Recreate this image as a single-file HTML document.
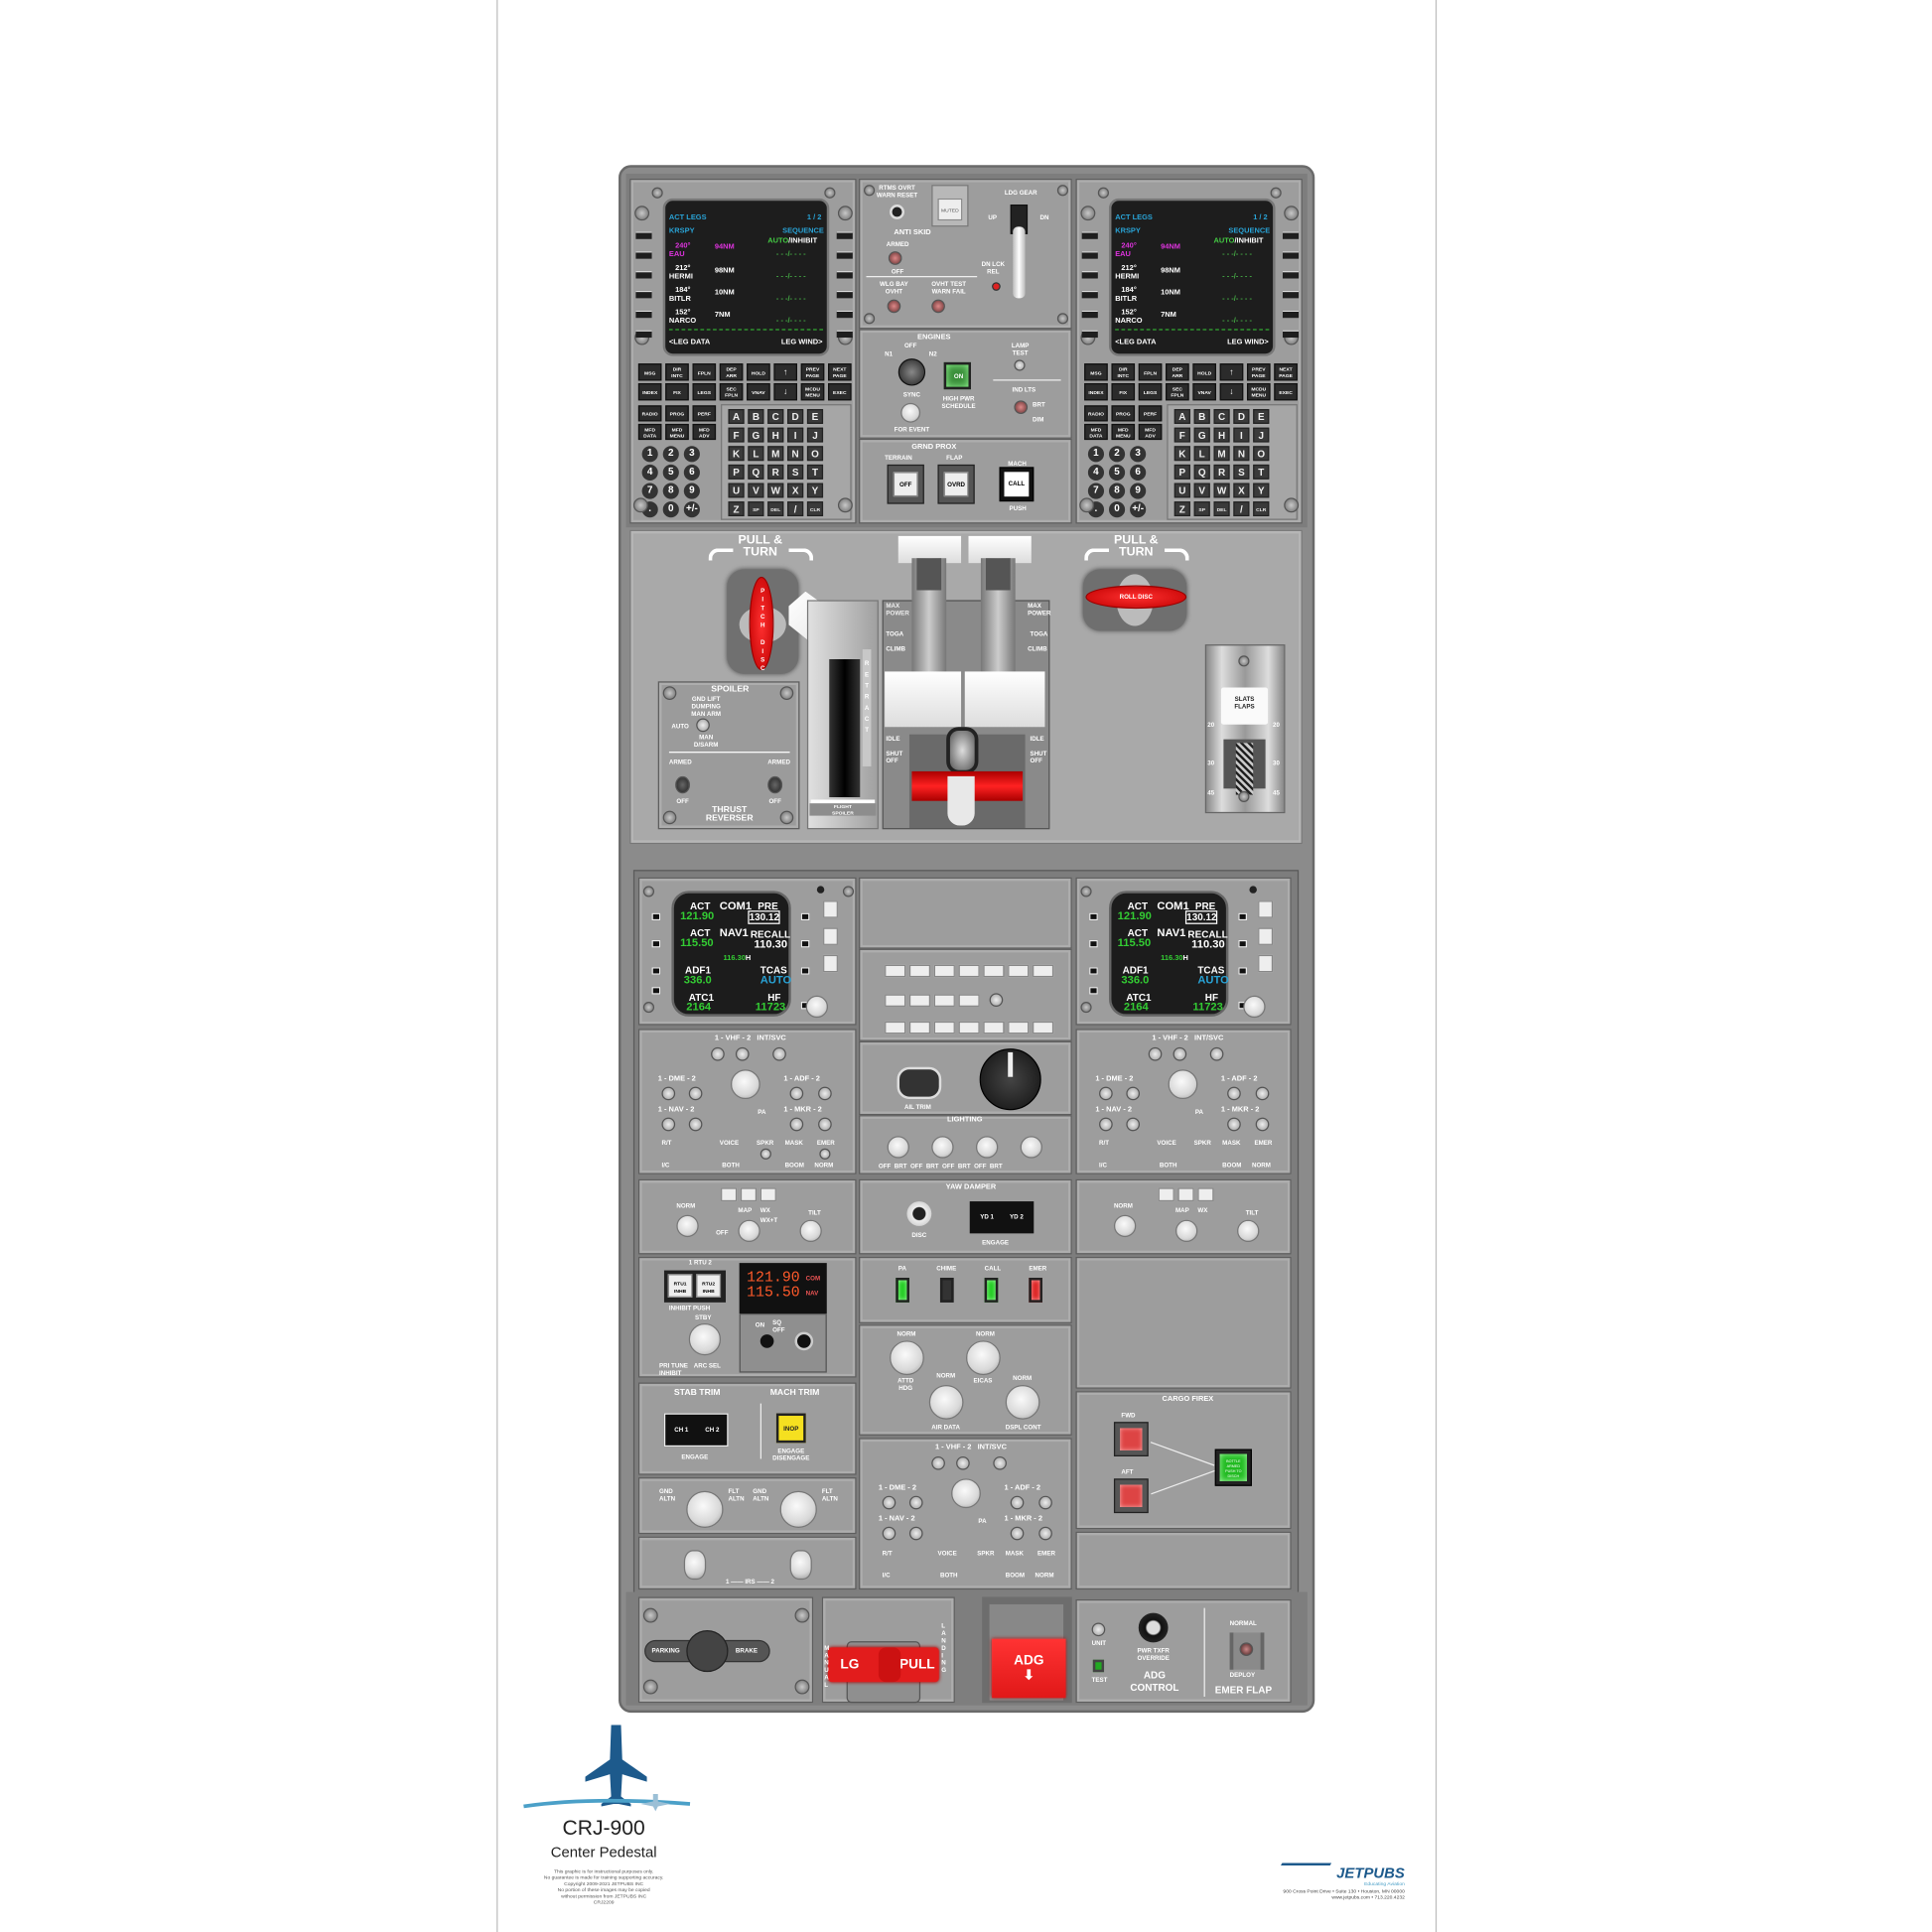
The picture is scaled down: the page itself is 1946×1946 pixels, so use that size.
<!DOCTYPE html>
<html><head><meta charset="utf-8">
<style>
*{margin:0;padding:0;box-sizing:border-box}
html,body{width:1946px;height:1946px;background:#fff;overflow:hidden;font-family:"Liberation Sans",Arial,sans-serif}
#w{position:absolute;left:0;top:0;width:1568px;height:1568px;transform:scale(1.2411);transform-origin:0 0}
div{position:absolute}
.m{background:#9d9d9d;border:1px solid #5e5e5e;box-shadow:inset 0 0 0 2px #adadad}
.k{background:#2b2b2b;color:#fff;font-size:4px;font-weight:bold;text-align:center;line-height:5px;border:1px solid #111;display:flex;align-items:center;justify-content:center}
.lk{background:#3a3a3a;color:#eee;font-size:8px;font-weight:bold;text-align:center;line-height:11px;width:13px;height:12px;border:1px solid #222}
.nk{background:#333;color:#fff;font-size:8px;font-weight:bold;text-align:center;line-height:12px;width:13px;height:13px;border-radius:50%}
.s{width:9px;height:9px;border-radius:50%;background:radial-gradient(#c8c8c8,#6a6a6a);border:1px solid #555}
.lsk{width:13px;height:6px;background:#1e1e1e;border-top:1px solid #ddd}
.t{color:#fff;font-size:5px;font-weight:bold;white-space:nowrap;line-height:6px}
.tc{color:#fff;font-size:5px;font-weight:bold;white-space:nowrap;line-height:6px;text-align:center}
.kn{border-radius:50%;background:radial-gradient(circle at 45% 40%,#fafafa,#d8d8d8 60%,#9a9a9a);border:1px solid #777}
.sk{width:11px;height:11px;border-radius:50%;background:radial-gradient(#eee,#999);border:1px solid #555}
.scr{font-size:8px;font-weight:bold;line-height:9px;white-space:nowrap}
.cs .scr{font-size:6px;line-height:6.5px}
.wb{background:#eee;border:1px solid #888}
</style></head><body><div id="w">

<!-- poster frame -->
<div style="left:403px;top:0;width:763px;height:1568px;border-left:1px solid #bdbdbd;border-right:1px solid #bdbdbd"></div>

<!-- main panel -->
<div style="left:502px;top:134px;width:565px;height:1256px;background:#8b8b8b;border:2px solid #6a6a6a;border-radius:10px"></div>
<div style="left:508px;top:141px;width:553px;height:287px;background:#7d7d7d"></div>

<!-- LEFT CDU -->
<div class="m" style="left:511px;top:145px;width:184px;height:280px">
 <div class="s" style="left:17px;top:6px"></div><div class="s" style="left:157px;top:6px"></div>
 <div class="s" style="left:3px;top:21px;width:12px;height:12px"></div><div class="s" style="left:168px;top:21px;width:12px;height:12px"></div>
 <div class="s" style="left:3px;top:122px;width:12px;height:12px"></div><div class="s" style="left:168px;top:122px;width:12px;height:12px"></div>
 <div class="cs" style="left:26px;top:15px;width:135px;height:128px;background:#1d1d1d;border:2px solid #777;border-radius:8px">
  <div class="scr" style="left:3px;top:11px;color:#29a3d6">ACT LEGS</div><div class="scr" style="left:115px;top:11px;color:#29a3d6">1 / 2</div>
  <div class="scr" style="left:3px;top:22px;color:#29a3d6">KRSPY</div><div class="scr" style="left:95px;top:22px;color:#29a3d6">SEQUENCE</div>
  <div class="scr" style="left:83px;top:30px;color:#4c4">AUTO<span style="color:#fff">/INHIBIT</span></div>
  <div class="scr" style="left:3px;top:34px;color:#d3d">&nbsp;&nbsp;&nbsp;240°<br>EAU</div><div class="scr" style="left:40px;top:35px;color:#d3d">94NM</div>
  <div class="scr" style="left:3px;top:52px;color:#fff">&nbsp;&nbsp;&nbsp;212°<br>HERMI</div><div class="scr" style="left:40px;top:54px;color:#fff">98NM</div>
  <div class="scr" style="left:3px;top:70px;color:#fff">&nbsp;&nbsp;&nbsp;184°<br>BITLR</div><div class="scr" style="left:40px;top:72px;color:#fff">10NM</div>
  <div class="scr" style="left:3px;top:88px;color:#fff">&nbsp;&nbsp;&nbsp;152°<br>NARCO</div><div class="scr" style="left:40px;top:90px;color:#fff">7NM</div>
  <div class="scr" style="left:90px;top:41px;color:#4a4">- - -/- - - -</div>
  <div class="scr" style="left:90px;top:59px;color:#4a4">- - -/- - - -</div>
  <div class="scr" style="left:90px;top:77px;color:#4a4">- - -/- - - -</div>
  <div class="scr" style="left:90px;top:95px;color:#4a4">- - -/- - - -</div>
  <div style="left:3px;top:104px;width:125px;border-top:1px dashed #3a3"></div>
  <div class="scr" style="left:3px;top:112px;color:#fff">&lt;LEG DATA</div><div class="scr" style="left:94px;top:112px;color:#fff">LEG WIND&gt;</div>
 </div>
 <div class="lsk" style="left:4px;top:42px"></div><div class="lsk" style="left:4px;top:58px"></div><div class="lsk" style="left:4px;top:74px"></div><div class="lsk" style="left:4px;top:90px"></div><div class="lsk" style="left:4px;top:106px"></div><div class="lsk" style="left:4px;top:122px"></div>
 <div class="lsk" style="left:167px;top:42px"></div><div class="lsk" style="left:167px;top:58px"></div><div class="lsk" style="left:167px;top:74px"></div><div class="lsk" style="left:167px;top:90px"></div><div class="lsk" style="left:167px;top:106px"></div><div class="lsk" style="left:167px;top:122px"></div>
 <div class="k" style="left:6px;top:149px;width:19px;height:14px">MSG</div><div class="k" style="left:28px;top:149px;width:19px;height:14px">DIR INTC</div><div class="k" style="left:50px;top:149px;width:19px;height:14px">FPLN</div><div class="k" style="left:72px;top:149px;width:19px;height:14px">DEP ARR</div><div class="k" style="left:94px;top:149px;width:19px;height:14px">HOLD</div><div class="k" style="left:116px;top:149px;width:19px;height:14px;font-size:7px">↑</div><div class="k" style="left:138px;top:149px;width:19px;height:14px">PREV PAGE</div><div class="k" style="left:160px;top:149px;width:19px;height:14px">NEXT PAGE</div>
 <div class="k" style="left:6px;top:165px;width:19px;height:14px">INDEX</div><div class="k" style="left:28px;top:165px;width:19px;height:14px">FIX</div><div class="k" style="left:50px;top:165px;width:19px;height:14px">LEGS</div><div class="k" style="left:72px;top:165px;width:19px;height:14px">SEC FPLN</div><div class="k" style="left:94px;top:165px;width:19px;height:14px">VNAV</div><div class="k" style="left:116px;top:165px;width:19px;height:14px;font-size:7px">↓</div><div class="k" style="left:138px;top:165px;width:19px;height:14px">MCDU MENU</div><div class="k" style="left:160px;top:165px;width:19px;height:14px">EXEC</div>
 <div class="k" style="left:6px;top:183px;width:19px;height:13px">RADIO</div><div class="k" style="left:28px;top:183px;width:19px;height:13px">PROG</div><div class="k" style="left:50px;top:183px;width:19px;height:13px">PERF</div>
 <div class="k" style="left:6px;top:198px;width:19px;height:13px">MFD DATA</div><div class="k" style="left:28px;top:198px;width:19px;height:13px">MFD MENU</div><div class="k" style="left:50px;top:198px;width:19px;height:13px">MFD ADV</div>
 <div style="left:73px;top:182px;width:106px;height:94px;background:#a6a6a6;border:1px solid #777"></div>
 <div class="lk" style="left:79px;top:186px">A</div><div class="lk" style="left:95px;top:186px">B</div><div class="lk" style="left:111px;top:186px">C</div><div class="lk" style="left:127px;top:186px">D</div><div class="lk" style="left:143px;top:186px">E</div>
 <div class="lk" style="left:79px;top:201px">F</div><div class="lk" style="left:95px;top:201px">G</div><div class="lk" style="left:111px;top:201px">H</div><div class="lk" style="left:127px;top:201px">I</div><div class="lk" style="left:143px;top:201px">J</div>
 <div class="lk" style="left:79px;top:216px">K</div><div class="lk" style="left:95px;top:216px">L</div><div class="lk" style="left:111px;top:216px">M</div><div class="lk" style="left:127px;top:216px">N</div><div class="lk" style="left:143px;top:216px">O</div>
 <div class="lk" style="left:79px;top:231px">P</div><div class="lk" style="left:95px;top:231px">Q</div><div class="lk" style="left:111px;top:231px">R</div><div class="lk" style="left:127px;top:231px">S</div><div class="lk" style="left:143px;top:231px">T</div>
 <div class="lk" style="left:79px;top:246px">U</div><div class="lk" style="left:95px;top:246px">V</div><div class="lk" style="left:111px;top:246px">W</div><div class="lk" style="left:127px;top:246px">X</div><div class="lk" style="left:143px;top:246px">Y</div>
 <div class="lk" style="left:79px;top:261px">Z</div><div class="lk" style="left:95px;top:261px;font-size:4px">SP</div><div class="lk" style="left:111px;top:261px;font-size:4px">DEL</div><div class="lk" style="left:127px;top:261px">/</div><div class="lk" style="left:143px;top:261px;font-size:4px">CLR</div>
 <div class="nk" style="left:9px;top:216px">1</div><div class="nk" style="left:26px;top:216px">2</div><div class="nk" style="left:43px;top:216px">3</div>
 <div class="nk" style="left:9px;top:231px">4</div><div class="nk" style="left:26px;top:231px">5</div><div class="nk" style="left:43px;top:231px">6</div>
 <div class="nk" style="left:9px;top:246px">7</div><div class="nk" style="left:26px;top:246px">8</div><div class="nk" style="left:43px;top:246px">9</div>
 <div class="nk" style="left:9px;top:261px">.</div><div class="nk" style="left:26px;top:261px">0</div><div class="nk" style="left:43px;top:261px">+/-</div>
 <div class="s" style="left:2px;top:258px;width:12px;height:12px"></div><div class="s" style="left:168px;top:258px;width:12px;height:12px"></div>
</div>

<!-- RIGHT CDU -->
<div class="m" style="left:873px;top:145px;width:184px;height:280px">
 <div class="s" style="left:17px;top:6px"></div><div class="s" style="left:157px;top:6px"></div>
 <div class="s" style="left:3px;top:21px;width:12px;height:12px"></div><div class="s" style="left:168px;top:21px;width:12px;height:12px"></div>
 <div class="s" style="left:3px;top:122px;width:12px;height:12px"></div><div class="s" style="left:168px;top:122px;width:12px;height:12px"></div>
 <div class="cs" style="left:26px;top:15px;width:135px;height:128px;background:#1d1d1d;border:2px solid #777;border-radius:8px">
  <div class="scr" style="left:3px;top:11px;color:#29a3d6">ACT LEGS</div><div class="scr" style="left:115px;top:11px;color:#29a3d6">1 / 2</div>
  <div class="scr" style="left:3px;top:22px;color:#29a3d6">KRSPY</div><div class="scr" style="left:95px;top:22px;color:#29a3d6">SEQUENCE</div>
  <div class="scr" style="left:83px;top:30px;color:#4c4">AUTO<span style="color:#fff">/INHIBIT</span></div>
  <div class="scr" style="left:3px;top:34px;color:#d3d">&nbsp;&nbsp;&nbsp;240°<br>EAU</div><div class="scr" style="left:40px;top:35px;color:#d3d">94NM</div>
  <div class="scr" style="left:3px;top:52px;color:#fff">&nbsp;&nbsp;&nbsp;212°<br>HERMI</div><div class="scr" style="left:40px;top:54px;color:#fff">98NM</div>
  <div class="scr" style="left:3px;top:70px;color:#fff">&nbsp;&nbsp;&nbsp;184°<br>BITLR</div><div class="scr" style="left:40px;top:72px;color:#fff">10NM</div>
  <div class="scr" style="left:3px;top:88px;color:#fff">&nbsp;&nbsp;&nbsp;152°<br>NARCO</div><div class="scr" style="left:40px;top:90px;color:#fff">7NM</div>
  <div class="scr" style="left:90px;top:41px;color:#4a4">- - -/- - - -</div>
  <div class="scr" style="left:90px;top:59px;color:#4a4">- - -/- - - -</div>
  <div class="scr" style="left:90px;top:77px;color:#4a4">- - -/- - - -</div>
  <div class="scr" style="left:90px;top:95px;color:#4a4">- - -/- - - -</div>
  <div style="left:3px;top:104px;width:125px;border-top:1px dashed #3a3"></div>
  <div class="scr" style="left:3px;top:112px;color:#fff">&lt;LEG DATA</div><div class="scr" style="left:94px;top:112px;color:#fff">LEG WIND&gt;</div>
 </div>
 <div class="lsk" style="left:4px;top:42px"></div><div class="lsk" style="left:4px;top:58px"></div><div class="lsk" style="left:4px;top:74px"></div><div class="lsk" style="left:4px;top:90px"></div><div class="lsk" style="left:4px;top:106px"></div><div class="lsk" style="left:4px;top:122px"></div>
 <div class="lsk" style="left:167px;top:42px"></div><div class="lsk" style="left:167px;top:58px"></div><div class="lsk" style="left:167px;top:74px"></div><div class="lsk" style="left:167px;top:90px"></div><div class="lsk" style="left:167px;top:106px"></div><div class="lsk" style="left:167px;top:122px"></div>
 <div class="k" style="left:6px;top:149px;width:19px;height:14px">MSG</div><div class="k" style="left:28px;top:149px;width:19px;height:14px">DIR INTC</div><div class="k" style="left:50px;top:149px;width:19px;height:14px">FPLN</div><div class="k" style="left:72px;top:149px;width:19px;height:14px">DEP ARR</div><div class="k" style="left:94px;top:149px;width:19px;height:14px">HOLD</div><div class="k" style="left:116px;top:149px;width:19px;height:14px;font-size:7px">↑</div><div class="k" style="left:138px;top:149px;width:19px;height:14px">PREV PAGE</div><div class="k" style="left:160px;top:149px;width:19px;height:14px">NEXT PAGE</div>
 <div class="k" style="left:6px;top:165px;width:19px;height:14px">INDEX</div><div class="k" style="left:28px;top:165px;width:19px;height:14px">FIX</div><div class="k" style="left:50px;top:165px;width:19px;height:14px">LEGS</div><div class="k" style="left:72px;top:165px;width:19px;height:14px">SEC FPLN</div><div class="k" style="left:94px;top:165px;width:19px;height:14px">VNAV</div><div class="k" style="left:116px;top:165px;width:19px;height:14px;font-size:7px">↓</div><div class="k" style="left:138px;top:165px;width:19px;height:14px">MCDU MENU</div><div class="k" style="left:160px;top:165px;width:19px;height:14px">EXEC</div>
 <div class="k" style="left:6px;top:183px;width:19px;height:13px">RADIO</div><div class="k" style="left:28px;top:183px;width:19px;height:13px">PROG</div><div class="k" style="left:50px;top:183px;width:19px;height:13px">PERF</div>
 <div class="k" style="left:6px;top:198px;width:19px;height:13px">MFD DATA</div><div class="k" style="left:28px;top:198px;width:19px;height:13px">MFD MENU</div><div class="k" style="left:50px;top:198px;width:19px;height:13px">MFD ADV</div>
 <div style="left:73px;top:182px;width:106px;height:94px;background:#a6a6a6;border:1px solid #777"></div>
 <div class="lk" style="left:79px;top:186px">A</div><div class="lk" style="left:95px;top:186px">B</div><div class="lk" style="left:111px;top:186px">C</div><div class="lk" style="left:127px;top:186px">D</div><div class="lk" style="left:143px;top:186px">E</div>
 <div class="lk" style="left:79px;top:201px">F</div><div class="lk" style="left:95px;top:201px">G</div><div class="lk" style="left:111px;top:201px">H</div><div class="lk" style="left:127px;top:201px">I</div><div class="lk" style="left:143px;top:201px">J</div>
 <div class="lk" style="left:79px;top:216px">K</div><div class="lk" style="left:95px;top:216px">L</div><div class="lk" style="left:111px;top:216px">M</div><div class="lk" style="left:127px;top:216px">N</div><div class="lk" style="left:143px;top:216px">O</div>
 <div class="lk" style="left:79px;top:231px">P</div><div class="lk" style="left:95px;top:231px">Q</div><div class="lk" style="left:111px;top:231px">R</div><div class="lk" style="left:127px;top:231px">S</div><div class="lk" style="left:143px;top:231px">T</div>
 <div class="lk" style="left:79px;top:246px">U</div><div class="lk" style="left:95px;top:246px">V</div><div class="lk" style="left:111px;top:246px">W</div><div class="lk" style="left:127px;top:246px">X</div><div class="lk" style="left:143px;top:246px">Y</div>
 <div class="lk" style="left:79px;top:261px">Z</div><div class="lk" style="left:95px;top:261px;font-size:4px">SP</div><div class="lk" style="left:111px;top:261px;font-size:4px">DEL</div><div class="lk" style="left:127px;top:261px">/</div><div class="lk" style="left:143px;top:261px;font-size:4px">CLR</div>
 <div class="nk" style="left:9px;top:216px">1</div><div class="nk" style="left:26px;top:216px">2</div><div class="nk" style="left:43px;top:216px">3</div>
 <div class="nk" style="left:9px;top:231px">4</div><div class="nk" style="left:26px;top:231px">5</div><div class="nk" style="left:43px;top:231px">6</div>
 <div class="nk" style="left:9px;top:246px">7</div><div class="nk" style="left:26px;top:246px">8</div><div class="nk" style="left:43px;top:246px">9</div>
 <div class="nk" style="left:9px;top:261px">.</div><div class="nk" style="left:26px;top:261px">0</div><div class="nk" style="left:43px;top:261px">+/-</div>
 <div class="s" style="left:2px;top:258px;width:12px;height:12px"></div><div class="s" style="left:168px;top:258px;width:12px;height:12px"></div>
</div>

<!-- CENTER TOP -->
<div class="m" style="left:697px;top:145px;width:173px;height:122px">
 <div class="tc" style="left:12px;top:4px;width:36px">RTMS OVRT<br>WARN RESET</div>
 <div style="left:24px;top:20px;width:12px;height:12px;border-radius:50%;background:#222;border:2px solid #ddd"></div>
 <div style="left:58px;top:4px;width:30px;height:34px;background:#b8b8b8;border:1px solid #777"><div class="wb" style="left:4px;top:10px;width:20px;height:18px;color:#555;font-size:4px;text-align:center;line-height:18px">MUTED</div></div>
 <div class="tc" style="left:108px;top:8px;width:45px">LDG GEAR</div>
 <div class="t" style="left:104px;top:28px">UP</div><div class="t" style="left:146px;top:28px">DN</div>
 <div style="left:122px;top:20px;width:14px;height:24px;background:#222;border:1px solid #111"></div>
 <div style="left:124px;top:38px;width:10px;height:58px;background:linear-gradient(90deg,#bbb,#fff,#bbb);border-radius:4px"></div>
 <div class="tc" style="left:88px;top:66px;width:40px">DN LCK<br>REL</div>
 <div style="left:107px;top:83px;width:7px;height:7px;border-radius:50%;background:#d22;border:1px solid #333"></div>
 <div class="tc" style="left:25px;top:40px;width:35px;font-size:6px">ANTI SKID</div>
 <div class="tc" style="left:18px;top:50px;width:25px">ARMED</div>
 <div class="sk" style="left:23px;top:58px;background:radial-gradient(#d88,#633)"></div>
 <div class="tc" style="left:18px;top:72px;width:25px">OFF</div>
 <div style="left:5px;top:78px;width:90px;border-top:1px solid #eee"></div>
 <div class="tc" style="left:10px;top:82px;width:35px">WLG BAY<br>OVHT</div>
 <div class="tc" style="left:52px;top:82px;width:40px">OVHT TEST<br>WARN FAIL</div>
 <div class="sk" style="left:22px;top:97px;background:radial-gradient(#d88,#633)"></div>
 <div class="sk" style="left:58px;top:97px;background:radial-gradient(#d88,#633)"></div>
 <div class="s" style="left:3px;top:4px"></div><div class="s" style="left:160px;top:4px"></div><div class="s" style="left:3px;top:108px"></div><div class="s" style="left:160px;top:108px"></div>
</div>
<div class="m" style="left:697px;top:267px;width:173px;height:89px">
 <div class="tc" style="left:40px;top:3px;width:40px;font-size:6px">ENGINES</div>
 <div class="t" style="left:20px;top:17px">N1</div><div class="t" style="left:36px;top:10px">OFF</div><div class="t" style="left:56px;top:17px">N2</div>
 <div style="left:31px;top:23px;width:22px;height:22px;border-radius:50%;background:radial-gradient(#888,#222);border:1px solid #111"></div>
 <div class="tc" style="left:28px;top:50px;width:28px">SYNC</div>
 <div class="kn" style="left:33px;top:59px;width:16px;height:16px"></div>
 <div class="tc" style="left:22px;top:78px;width:40px">FOR EVENT</div>
 <div style="left:68px;top:26px;width:22px;height:22px;background:#3b8f3b;border:2px solid #222;box-shadow:inset 0 0 6px #9f9"><div class="tc" style="left:3px;top:7px;width:14px;color:#fff">ON</div></div>
 <div class="tc" style="left:60px;top:53px;width:40px">HIGH PWR<br>SCHEDULE</div>
 <div class="tc" style="left:115px;top:10px;width:30px">LAMP<br>TEST</div>
 <div class="sk" style="left:125px;top:24px;width:9px;height:9px"></div>
 <div style="left:108px;top:40px;width:55px;border-top:1px solid #eee"></div>
 <div class="tc" style="left:118px;top:46px;width:30px">IND LTS</div>
 <div class="sk" style="left:125px;top:57px;background:radial-gradient(#d88,#633)"></div>
 <div class="t" style="left:140px;top:58px">BRT</div><div class="t" style="left:140px;top:70px">DIM</div>
</div>
<div class="m" style="left:697px;top:356px;width:173px;height:69px">
 <div class="tc" style="left:25px;top:3px;width:70px;font-size:6px">GRND PROX</div>
 <div class="t" style="left:20px;top:12px">TERRAIN</div><div class="t" style="left:70px;top:12px">FLAP</div><div class="t" style="left:120px;top:17px">MACH</div>
 <div style="left:22px;top:20px;width:30px;height:32px;background:#555;border:1px solid #222"><div class="wb" style="left:4px;top:5px;width:20px;height:20px;font-size:5px;font-weight:bold;text-align:center;line-height:20px">OFF</div></div>
 <div style="left:63px;top:20px;width:30px;height:32px;background:#555;border:1px solid #222"><div class="wb" style="left:4px;top:5px;width:20px;height:20px;font-size:5px;font-weight:bold;text-align:center;line-height:20px">OVRD</div></div>
 <div style="left:113px;top:22px;width:28px;height:28px;background:#111;border:1px solid #000"><div style="left:3px;top:3px;width:20px;height:20px;background:#fff;font-size:5px;font-weight:bold;text-align:center;line-height:20px">CALL</div></div>
 <div class="t" style="left:121px;top:53px">PUSH</div>
</div>

<!-- THROTTLE SECTION -->
<div style="left:511px;top:430px;width:546px;height:255px;background:#a9a9a9;border:1px solid #777;box-shadow:inset 0 0 0 2px #b6b6b6"></div>
<div class="tc" style="left:587px;top:434px;width:60px;font-size:10px;line-height:10px">PULL &amp;<br>TURN</div>
<div style="left:575px;top:445px;width:20px;height:10px;border-top:3px solid #fff;border-left:3px solid #fff;border-radius:8px 0 0 0"></div>
<div style="left:640px;top:445px;width:20px;height:10px;border-top:3px solid #fff;border-right:3px solid #fff;border-radius:0 8px 0 0"></div>
<div class="tc" style="left:892px;top:434px;width:60px;font-size:10px;line-height:10px">PULL &amp;<br>TURN</div>
<div style="left:880px;top:445px;width:20px;height:10px;border-top:3px solid #fff;border-left:3px solid #fff;border-radius:8px 0 0 0"></div>
<div style="left:945px;top:445px;width:20px;height:10px;border-top:3px solid #fff;border-right:3px solid #fff;border-radius:0 8px 0 0"></div>
<!-- pitch disc -->
<div style="left:590px;top:462px;width:58px;height:85px;background:#707070;border-radius:14px;box-shadow:0 0 4px #555"></div>
<div style="left:600px;top:492px;width:38px;height:30px;border-radius:50%;background:#bbb"></div>
<div style="left:608px;top:468px;width:20px;height:76px;border-radius:50%;background:radial-gradient(#ff3030,#c00000);border:1px solid #900"><div class="tc" style="left:6px;top:8px;width:8px;font-size:5px;line-height:7px">P<br>I<br>T<br>C<br>H<br><br>D<br>I<br>S<br>C</div></div>
<!-- white lever -->
<div style="left:640px;top:480px;width:55px;height:60px;background:linear-gradient(135deg,#fff,#ddd);clip-path:polygon(0 20%,25% 0,100% 50%,100% 100%,75% 100%,0 45%)"></div>
<!-- flight spoiler -->
<div style="left:655px;top:487px;width:58px;height:186px;background:linear-gradient(90deg,#e0e0e0,#a0a0a0);border:1px solid #777"></div>
<div style="left:673px;top:535px;width:25px;height:112px;background:linear-gradient(90deg,#333,#000,#333)"></div>
<div style="left:700px;top:527px;width:7px;height:95px;background:#c8c8c8"><div class="tc" style="left:1px;top:8px;width:5px;line-height:9px">R<br>E<br>T<br>R<br>A<br>C<br>T</div></div>
<div style="left:658px;top:649px;width:52px;height:3px;background:#fff"></div>
<div style="left:657px;top:652px;width:54px;height:10px;background:#8d8d8d"><div class="tc" style="left:0;top:0;width:54px;line-height:5px;font-size:4px">FLIGHT<br>SPOILER</div></div>
<!-- spoiler / thrust reverser panel -->
<div class="m" style="left:534px;top:553px;width:115px;height:120px;background:#9b9b9b">
 <div class="s" style="left:3px;top:3px;width:11px;height:11px"></div><div class="s" style="left:98px;top:3px;width:11px;height:11px"></div><div class="s" style="left:3px;top:104px;width:11px;height:11px"></div><div class="s" style="left:98px;top:104px;width:11px;height:11px"></div>
 <div class="tc" style="left:30px;top:3px;width:55px;font-size:7px">SPOILER</div>
 <div class="tc" style="left:18px;top:11px;width:40px;line-height:6px">GND LIFT<br>DUMPING<br>MAN ARM</div>
 <div class="t" style="left:10px;top:33px">AUTO</div>
 <div class="sk" style="left:30px;top:29px"></div>
 <div class="tc" style="left:18px;top:42px;width:40px">MAN<br>D/SARM</div>
 <div style="left:8px;top:56px;width:98px;border-top:1px solid #fff"></div>
 <div class="t" style="left:8px;top:62px">ARMED</div><div class="t" style="left:88px;top:62px">ARMED</div>
 <div class="sk" style="left:13px;top:76px;width:12px;height:14px;background:radial-gradient(#666,#222)"></div>
 <div class="sk" style="left:88px;top:76px;width:12px;height:14px;background:radial-gradient(#666,#222)"></div>
 <div class="t" style="left:14px;top:94px">OFF</div><div class="t" style="left:89px;top:94px">OFF</div>
 <div class="tc" style="left:32px;top:100px;width:50px;font-size:7px;line-height:7px">THRUST<br>REVERSER</div>
</div>
<!-- thrust levers -->
<div style="left:716px;top:487px;width:136px;height:186px;background:#8a8a8a;border:1px solid #555"></div>
<div style="left:729px;top:435px;width:51px;height:22px;background:linear-gradient(#fff,#ddd)"></div>
<div style="left:786px;top:435px;width:51px;height:22px;background:linear-gradient(#fff,#ddd)"></div>
<div style="left:740px;top:453px;width:28px;height:100px;background:linear-gradient(90deg,#777,#ccc,#777)"></div>
<div style="left:796px;top:453px;width:28px;height:100px;background:linear-gradient(90deg,#777,#ccc,#777)"></div>
<div style="left:744px;top:453px;width:20px;height:26px;background:#555"></div>
<div style="left:800px;top:453px;width:20px;height:26px;background:#555"></div>
<div style="left:718px;top:545px;width:62px;height:45px;background:linear-gradient(#fff,#ddd)"></div>
<div style="left:783px;top:545px;width:65px;height:45px;background:linear-gradient(#fff,#ddd)"></div>
<div style="left:738px;top:596px;width:94px;height:76px;background:#6a6a6a"></div>
<div style="left:768px;top:590px;width:26px;height:38px;background:radial-gradient(#ddd,#555);border-radius:10px;border:3px solid #222"></div>
<div style="left:740px;top:626px;width:90px;height:24px;background:linear-gradient(#a00,#f22,#a00)"></div>
<div style="left:769px;top:630px;width:22px;height:40px;background:#e8e8e8;border-radius:0 0 10px 10px"></div>
<div class="t" style="left:719px;top:489px;color:#eee">MAX<br>POWER</div><div class="t" style="left:834px;top:489px">MAX<br>POWER</div>
<div class="t" style="left:719px;top:512px">TOGA</div><div class="t" style="left:836px;top:512px">TOGA</div>
<div class="t" style="left:719px;top:524px">CLIMB</div><div class="t" style="left:834px;top:524px">CLIMB</div>
<div class="t" style="left:719px;top:597px">IDLE</div><div class="t" style="left:836px;top:597px">IDLE</div>
<div class="t" style="left:719px;top:609px">SHUT<br>OFF</div><div class="t" style="left:836px;top:609px">SHUT<br>OFF</div>
<!-- roll disc -->
<div style="left:879px;top:462px;width:84px;height:50px;background:#6f6f6f;border-radius:14px;box-shadow:0 0 4px #555"></div>
<div style="left:906px;top:466px;width:30px;height:42px;border-radius:50%;background:#bbb"></div>
<div style="left:881px;top:475px;width:82px;height:19px;border-radius:50%;background:radial-gradient(#ff3030,#c00000);border:1px solid #900"><div class="tc" style="left:0;top:6px;width:80px">ROLL DISC</div></div>
<!-- slats flaps -->
<div style="left:978px;top:523px;width:65px;height:137px;background:linear-gradient(90deg,#888,#ddd 20%,#999 50%,#ddd 80%,#888);border:1px solid #666"></div>
<div style="left:993px;top:600px;width:34px;height:40px;background:#555"></div>
<div style="left:1003px;top:603px;width:14px;height:42px;background:repeating-linear-gradient(45deg,#222 0 2px,#ccc 2px 4px)"></div>
<div style="left:991px;top:558px;width:38px;height:30px;background:#fafafa;border-radius:2px"><div class="tc" style="left:0;top:7px;width:38px;color:#222;line-height:6px">SLATS<br>FLAPS</div></div>
<div class="s" style="left:1005px;top:532px"></div><div class="s" style="left:1005px;top:642px"></div>
<div class="t" style="left:980px;top:586px">20</div><div class="t" style="left:1033px;top:586px">20</div>
<div class="t" style="left:980px;top:617px">30</div><div class="t" style="left:1033px;top:617px">30</div>
<div class="t" style="left:980px;top:641px">45</div><div class="t" style="left:1033px;top:641px">45</div>

<!-- LOWER SECTION FRAME -->
<div style="left:514px;top:706px;width:540px;height:587px;background:#7d7d7d;border:1px solid #5a5a5a"></div>

<!-- RMU left -->
<div class="m" style="left:518px;top:712px;width:177px;height:120px">
 <div style="left:26px;top:10px;width:97px;height:102px;background:#1c1c1c;border-radius:14px;border:2px solid #666">
  <div class="scr" style="left:13px;top:6px;color:#fff">ACT</div><div class="scr" style="left:37px;top:6px;color:#fff;font-size:9px">COM1</div><div class="scr" style="left:68px;top:6px;color:#fff">PRE</div>
  <div class="scr" style="left:5px;top:14px;color:#3c3;font-size:9px">121.90</div><div class="scr" style="left:60px;top:14px;color:#fff;border:1px solid #fff;font-size:8px">130.12</div>
  <div class="scr" style="left:13px;top:28px;color:#fff">ACT</div><div class="scr" style="left:37px;top:28px;color:#fff;font-size:9px">NAV1</div><div class="scr" style="left:62px;top:29px;color:#fff">RECALL</div>
  <div class="scr" style="left:5px;top:36px;color:#3c3;font-size:9px">115.50</div><div class="scr" style="left:65px;top:37px;color:#fff;font-size:9px">110.30</div>
  <div class="scr" style="left:40px;top:49px;color:#3c3;font-size:6px">116.30<span style="color:#fff">H</span></div>
  <div class="scr" style="left:9px;top:58px;color:#fff">ADF1</div><div class="scr" style="left:70px;top:58px;color:#fff">TCAS</div>
  <div class="scr" style="left:8px;top:66px;color:#3c3;font-size:9px">336.0</div><div class="scr" style="left:70px;top:66px;color:#29a3d6;font-size:9px">AUTO</div>
  <div class="scr" style="left:12px;top:80px;color:#fff">ATC1</div><div class="scr" style="left:76px;top:80px;color:#fff">HF</div>
  <div class="scr" style="left:10px;top:88px;color:#3c3;font-size:9px">2164</div><div class="scr" style="left:66px;top:88px;color:#3c3;font-size:9px">11723</div>
 </div>
 <div style="left:10px;top:28px;width:7px;height:6px;background:#111;border:1px solid #eee"></div><div style="left:10px;top:50px;width:7px;height:6px;background:#111;border:1px solid #eee"></div><div style="left:10px;top:72px;width:7px;height:6px;background:#111;border:1px solid #eee"></div><div style="left:10px;top:88px;width:7px;height:6px;background:#111;border:1px solid #eee"></div>
 <div style="left:131px;top:28px;width:7px;height:6px;background:#111;border:1px solid #eee"></div><div style="left:131px;top:50px;width:7px;height:6px;background:#111;border:1px solid #eee"></div><div style="left:131px;top:72px;width:7px;height:6px;background:#111;border:1px solid #eee"></div><div style="left:131px;top:100px;width:7px;height:6px;background:#111;border:1px solid #eee"></div>
 <div style="left:144px;top:6px;width:6px;height:6px;border-radius:50%;background:#222"></div>
 <div class="wb" style="left:149px;top:18px;width:12px;height:14px"></div><div class="wb" style="left:149px;top:40px;width:12px;height:14px"></div><div class="wb" style="left:149px;top:62px;width:12px;height:14px"></div>
 <div class="kn" style="left:135px;top:95px;width:18px;height:18px"></div>
 <div class="s" style="left:3px;top:6px"></div><div class="s" style="left:3px;top:100px"></div><div class="s" style="left:165px;top:6px"></div>
</div>

<!-- RMU right -->
<div class="m" style="left:873px;top:712px;width:175px;height:120px">
 <div style="left:26px;top:10px;width:97px;height:102px;background:#1c1c1c;border-radius:14px;border:2px solid #666">
  <div class="scr" style="left:13px;top:6px;color:#fff">ACT</div><div class="scr" style="left:37px;top:6px;color:#fff;font-size:9px">COM1</div><div class="scr" style="left:68px;top:6px;color:#fff">PRE</div>
  <div class="scr" style="left:5px;top:14px;color:#3c3;font-size:9px">121.90</div><div class="scr" style="left:60px;top:14px;color:#fff;border:1px solid #fff;font-size:8px">130.12</div>
  <div class="scr" style="left:13px;top:28px;color:#fff">ACT</div><div class="scr" style="left:37px;top:28px;color:#fff;font-size:9px">NAV1</div><div class="scr" style="left:62px;top:29px;color:#fff">RECALL</div>
  <div class="scr" style="left:5px;top:36px;color:#3c3;font-size:9px">115.50</div><div class="scr" style="left:65px;top:37px;color:#fff;font-size:9px">110.30</div>
  <div class="scr" style="left:40px;top:49px;color:#3c3;font-size:6px">116.30<span style="color:#fff">H</span></div>
  <div class="scr" style="left:9px;top:58px;color:#fff">ADF1</div><div class="scr" style="left:70px;top:58px;color:#fff">TCAS</div>
  <div class="scr" style="left:8px;top:66px;color:#3c3;font-size:9px">336.0</div><div class="scr" style="left:70px;top:66px;color:#29a3d6;font-size:9px">AUTO</div>
  <div class="scr" style="left:12px;top:80px;color:#fff">ATC1</div><div class="scr" style="left:76px;top:80px;color:#fff">HF</div>
  <div class="scr" style="left:10px;top:88px;color:#3c3;font-size:9px">2164</div><div class="scr" style="left:66px;top:88px;color:#3c3;font-size:9px">11723</div>
 </div>
 <div style="left:10px;top:28px;width:7px;height:6px;background:#111;border:1px solid #eee"></div><div style="left:10px;top:50px;width:7px;height:6px;background:#111;border:1px solid #eee"></div><div style="left:10px;top:72px;width:7px;height:6px;background:#111;border:1px solid #eee"></div><div style="left:10px;top:88px;width:7px;height:6px;background:#111;border:1px solid #eee"></div>
 <div style="left:131px;top:28px;width:7px;height:6px;background:#111;border:1px solid #eee"></div><div style="left:131px;top:50px;width:7px;height:6px;background:#111;border:1px solid #eee"></div><div style="left:131px;top:72px;width:7px;height:6px;background:#111;border:1px solid #eee"></div><div style="left:131px;top:100px;width:7px;height:6px;background:#111;border:1px solid #eee"></div>
 <div style="left:140px;top:6px;width:6px;height:6px;border-radius:50%;background:#222"></div>
 <div class="wb" style="left:147px;top:18px;width:12px;height:14px"></div><div class="wb" style="left:147px;top:40px;width:12px;height:14px"></div><div class="wb" style="left:147px;top:62px;width:12px;height:14px"></div>
 <div class="kn" style="left:135px;top:95px;width:18px;height:18px"></div>
 <div class="s" style="left:3px;top:6px"></div><div class="s" style="left:3px;top:100px"></div>
</div>

<!-- AUDIO panels (left, right, center) -->
<div class="m" style="left:518px;top:835px;width:177px;height:118px">
 <div class="tc" style="left:55px;top:4px;width:70px;font-size:6px">1 - VHF - 2 &nbsp; INT/SVC</div>
 <div class="sk" style="left:58px;top:14px"></div><div class="sk" style="left:78px;top:14px"></div><div class="sk" style="left:108px;top:14px"></div>
 <div class="kn" style="left:74px;top:32px;width:24px;height:24px"></div>
 <div class="t" style="left:15px;top:37px;font-size:6px">1 - DME - 2</div><div class="t" style="left:117px;top:37px;font-size:6px">1 - ADF - 2</div>
 <div class="sk" style="left:18px;top:46px"></div><div class="sk" style="left:40px;top:46px"></div><div class="sk" style="left:122px;top:46px"></div><div class="sk" style="left:145px;top:46px"></div>
 <div class="t" style="left:15px;top:62px;font-size:6px">1 - NAV - 2</div><div class="t" style="left:117px;top:62px;font-size:6px">1 - MKR - 2</div><div class="t" style="left:96px;top:64px">PA</div>
 <div class="sk" style="left:18px;top:71px"></div><div class="sk" style="left:40px;top:71px"></div><div class="sk" style="left:122px;top:71px"></div><div class="sk" style="left:145px;top:71px"></div>
 <div class="t" style="left:18px;top:89px">R/T</div><div class="t" style="left:65px;top:89px">VOICE</div><div class="t" style="left:95px;top:89px">SPKR</div><div class="t" style="left:118px;top:89px">MASK</div><div class="t" style="left:144px;top:89px">EMER</div>
 <div class="t" style="left:18px;top:107px">I/C</div><div class="t" style="left:67px;top:107px">BOTH</div><div class="t" style="left:118px;top:107px">BOOM</div><div class="t" style="left:142px;top:107px">NORM</div>
 <div class="sk" style="left:98px;top:96px;width:9px;height:9px"></div><div class="sk" style="left:146px;top:96px;width:9px;height:9px"></div>
</div>
<div class="m" style="left:873px;top:835px;width:175px;height:118px">
 <div class="tc" style="left:55px;top:4px;width:70px;font-size:6px">1 - VHF - 2 &nbsp; INT/SVC</div>
 <div class="sk" style="left:58px;top:14px"></div><div class="sk" style="left:78px;top:14px"></div><div class="sk" style="left:108px;top:14px"></div>
 <div class="kn" style="left:74px;top:32px;width:24px;height:24px"></div>
 <div class="t" style="left:15px;top:37px;font-size:6px">1 - DME - 2</div><div class="t" style="left:117px;top:37px;font-size:6px">1 - ADF - 2</div>
 <div class="sk" style="left:18px;top:46px"></div><div class="sk" style="left:40px;top:46px"></div><div class="sk" style="left:122px;top:46px"></div><div class="sk" style="left:145px;top:46px"></div>
 <div class="t" style="left:15px;top:62px;font-size:6px">1 - NAV - 2</div><div class="t" style="left:117px;top:62px;font-size:6px">1 - MKR - 2</div><div class="t" style="left:96px;top:64px">PA</div>
 <div class="sk" style="left:18px;top:71px"></div><div class="sk" style="left:40px;top:71px"></div><div class="sk" style="left:122px;top:71px"></div><div class="sk" style="left:145px;top:71px"></div>
 <div class="t" style="left:18px;top:89px">R/T</div><div class="t" style="left:65px;top:89px">VOICE</div><div class="t" style="left:95px;top:89px">SPKR</div><div class="t" style="left:118px;top:89px">MASK</div><div class="t" style="left:144px;top:89px">EMER</div>
 <div class="t" style="left:18px;top:107px">I/C</div><div class="t" style="left:67px;top:107px">BOTH</div><div class="t" style="left:118px;top:107px">BOOM</div><div class="t" style="left:142px;top:107px">NORM</div>
</div>
<div class="m" style="left:697px;top:1167px;width:173px;height:123px">
 <div class="tc" style="left:55px;top:4px;width:70px;font-size:6px">1 - VHF - 2 &nbsp; INT/SVC</div>
 <div class="sk" style="left:58px;top:14px"></div><div class="sk" style="left:78px;top:14px"></div><div class="sk" style="left:108px;top:14px"></div>
 <div class="kn" style="left:74px;top:32px;width:24px;height:24px"></div>
 <div class="t" style="left:15px;top:37px;font-size:6px">1 - DME - 2</div><div class="t" style="left:117px;top:37px;font-size:6px">1 - ADF - 2</div>
 <div class="sk" style="left:18px;top:46px"></div><div class="sk" style="left:40px;top:46px"></div><div class="sk" style="left:122px;top:46px"></div><div class="sk" style="left:145px;top:46px"></div>
 <div class="t" style="left:15px;top:62px;font-size:6px">1 - NAV - 2</div><div class="t" style="left:117px;top:62px;font-size:6px">1 - MKR - 2</div><div class="t" style="left:96px;top:64px">PA</div>
 <div class="sk" style="left:18px;top:71px"></div><div class="sk" style="left:40px;top:71px"></div><div class="sk" style="left:122px;top:71px"></div><div class="sk" style="left:145px;top:71px"></div>
 <div class="t" style="left:18px;top:90px">R/T</div><div class="t" style="left:63px;top:90px">VOICE</div><div class="t" style="left:95px;top:90px">SPKR</div><div class="t" style="left:118px;top:90px">MASK</div><div class="t" style="left:144px;top:90px">EMER</div>
 <div class="t" style="left:18px;top:108px">I/C</div><div class="t" style="left:65px;top:108px">BOTH</div><div class="t" style="left:118px;top:108px">BOOM</div><div class="t" style="left:142px;top:108px">NORM</div>
</div>

<!-- radar panels -->
<div class="m" style="left:518px;top:957px;width:177px;height:61px">
 <div class="t" style="left:30px;top:18px">NORM</div>
 <div class="kn" style="left:30px;top:28px;width:18px;height:18px"></div>
 <div class="wb" style="left:66px;top:6px;width:13px;height:11px"></div><div class="wb" style="left:82px;top:6px;width:13px;height:11px"></div><div class="wb" style="left:98px;top:6px;width:13px;height:11px"></div>
 <div class="t" style="left:80px;top:22px">MAP</div><div class="t" style="left:98px;top:22px">WX</div>
 <div class="kn" style="left:80px;top:32px;width:18px;height:18px"></div>
 <div class="t" style="left:62px;top:40px">OFF</div><div class="t" style="left:98px;top:30px">WX+T</div>
 <div class="t" style="left:137px;top:24px">TILT</div>
 <div class="kn" style="left:130px;top:32px;width:18px;height:18px"></div>
</div>
<div class="m" style="left:873px;top:957px;width:175px;height:61px">
 <div class="t" style="left:30px;top:18px">NORM</div>
 <div class="kn" style="left:30px;top:28px;width:18px;height:18px"></div>
 <div class="wb" style="left:66px;top:6px;width:13px;height:11px"></div><div class="wb" style="left:82px;top:6px;width:13px;height:11px"></div><div class="wb" style="left:98px;top:6px;width:13px;height:11px"></div>
 <div class="t" style="left:80px;top:22px">MAP</div><div class="t" style="left:98px;top:22px">WX</div>
 <div class="kn" style="left:80px;top:32px;width:18px;height:18px"></div>
 <div class="t" style="left:137px;top:24px">TILT</div>
 <div class="kn" style="left:130px;top:32px;width:18px;height:18px"></div>
</div>

<!-- center column -->
<div class="m" style="left:697px;top:712px;width:173px;height:58px"></div>
<div class="m" style="left:697px;top:770px;width:173px;height:75px">
 <div class="wb" style="left:20px;top:12px;width:17px;height:10px"></div><div class="wb" style="left:40px;top:12px;width:17px;height:10px"></div><div class="wb" style="left:60px;top:12px;width:17px;height:10px"></div><div class="wb" style="left:80px;top:12px;width:17px;height:10px"></div><div class="wb" style="left:100px;top:12px;width:17px;height:10px"></div><div class="wb" style="left:120px;top:12px;width:17px;height:10px"></div><div class="wb" style="left:140px;top:12px;width:17px;height:10px"></div>
 <div class="wb" style="left:20px;top:36px;width:17px;height:10px"></div><div class="wb" style="left:40px;top:36px;width:17px;height:10px"></div><div class="wb" style="left:60px;top:36px;width:17px;height:10px"></div><div class="wb" style="left:80px;top:36px;width:17px;height:10px"></div>
 <div class="sk" style="left:105px;top:35px"></div>
 <div class="wb" style="left:20px;top:58px;width:17px;height:10px"></div><div class="wb" style="left:40px;top:58px;width:17px;height:10px"></div><div class="wb" style="left:60px;top:58px;width:17px;height:10px"></div><div class="wb" style="left:80px;top:58px;width:17px;height:10px"></div><div class="wb" style="left:100px;top:58px;width:17px;height:10px"></div><div class="wb" style="left:120px;top:58px;width:17px;height:10px"></div><div class="wb" style="left:140px;top:58px;width:17px;height:10px"></div>
</div>
<div class="m" style="left:697px;top:845px;width:173px;height:60px">
 <div style="left:30px;top:20px;width:36px;height:26px;background:#333;border-radius:10px;border:2px solid #ddd"></div>
 <div class="t" style="left:36px;top:50px">AIL TRIM</div>
 <div style="left:97px;top:5px;width:50px;height:50px;border-radius:50%;background:radial-gradient(#444,#111);border:1px solid #000"></div>
 <div style="left:120px;top:8px;width:4px;height:20px;background:#eee"></div>
</div>
<div class="m" style="left:697px;top:905px;width:173px;height:48px">
 <div class="tc" style="left:55px;top:0px;width:60px;font-size:6px">LIGHTING</div>
 <div class="kn" style="left:22px;top:16px;width:18px;height:18px"></div><div class="kn" style="left:58px;top:16px;width:18px;height:18px"></div><div class="kn" style="left:94px;top:16px;width:18px;height:18px"></div><div class="kn" style="left:130px;top:16px;width:18px;height:18px"></div>
 <div class="t" style="left:15px;top:38px">OFF &nbsp;BRT &nbsp;OFF &nbsp;BRT &nbsp;OFF &nbsp;BRT &nbsp;OFF &nbsp;BRT</div>
</div>
<div class="m" style="left:697px;top:957px;width:173px;height:61px">
 <div class="tc" style="left:55px;top:3px;width:70px;font-size:6px">YAW DAMPER</div>
 <div style="left:38px;top:17px;width:20px;height:20px;border-radius:50%;background:radial-gradient(#222 35%,#eee 40%,#bbb)"></div>
 <div class="t" style="left:42px;top:42px">DISC</div>
 <div style="left:89px;top:17px;width:52px;height:26px;background:#111"><div class="tc" style="left:4px;top:10px;width:20px">YD 1</div><div class="tc" style="left:28px;top:10px;width:20px">YD 2</div></div>
 <div class="t" style="left:99px;top:48px">ENGAGE</div>
</div>
<div class="m" style="left:697px;top:1020px;width:173px;height:54px">
 <div class="t" style="left:31px;top:6px">PA</div><div class="t" style="left:62px;top:6px">CHIME</div><div class="t" style="left:101px;top:6px">CALL</div><div class="t" style="left:137px;top:6px">EMER</div>
 <div style="left:29px;top:16px;width:11px;height:20px;background:#2c2;border:2px solid #222;box-shadow:inset 0 0 4px #afa"></div>
 <div style="left:65px;top:16px;width:11px;height:20px;background:#333;border:2px solid #222"></div>
 <div style="left:101px;top:16px;width:11px;height:20px;background:#2c2;border:2px solid #222;box-shadow:inset 0 0 4px #afa"></div>
 <div style="left:137px;top:16px;width:11px;height:20px;background:#d22;border:2px solid #222;box-shadow:inset 0 0 4px #faa"></div>
</div>
<div class="m" style="left:697px;top:1075px;width:173px;height:90px">
 <div class="t" style="left:30px;top:4px">NORM</div><div class="t" style="left:94px;top:4px">NORM</div>
 <div class="kn" style="left:24px;top:12px;width:28px;height:28px"></div><div class="kn" style="left:86px;top:12px;width:28px;height:28px"></div>
 <div class="tc" style="left:22px;top:42px;width:30px">ATTD<br>HDG</div><div class="t" style="left:92px;top:42px">EICAS</div>
 <div class="t" style="left:62px;top:38px">NORM</div><div class="t" style="left:124px;top:40px">NORM</div>
 <div class="kn" style="left:56px;top:48px;width:28px;height:28px"></div><div class="kn" style="left:118px;top:48px;width:28px;height:28px"></div>
 <div class="t" style="left:58px;top:80px">AIR DATA</div><div class="t" style="left:118px;top:80px">DSPL CONT</div>
</div>

<!-- transponder/RTU -->
<div class="m" style="left:518px;top:1020px;width:177px;height:98px">
 <div class="t" style="left:40px;top:1px">1 RTU 2</div>
 <div style="left:20px;top:10px;width:50px;height:26px;background:#222"><div class="wb" style="left:3px;top:3px;width:20px;height:19px;font-size:4px;text-align:center;line-height:6px;padding-top:4px;font-weight:bold">RTU1<br>INHB</div><div class="wb" style="left:26px;top:3px;width:20px;height:19px;font-size:4px;text-align:center;line-height:6px;padding-top:4px;font-weight:bold">RTU2<br>INHB</div></div>
 <div class="t" style="left:24px;top:38px">INHIBIT PUSH</div>
 <div class="t" style="left:45px;top:46px">STBY</div>
 <div class="kn" style="left:40px;top:53px;width:26px;height:26px"></div>
 <div class="t" style="left:16px;top:85px">PRI TUNE<br>INHIBIT</div><div class="t" style="left:44px;top:85px">ARC SEL</div>
 <div style="left:81px;top:4px;width:71px;height:41px;background:#111">
  <div style="left:6px;top:6px;color:#ff5a2a;font-size:12px;font-family:'Liberation Mono',monospace;line-height:12px;white-space:nowrap">121.90<br>115.50</div>
  <div class="t" style="left:54px;top:10px;color:#e55">COM</div><div class="t" style="left:54px;top:22px;color:#e55">NAV</div>
 </div>
 <div style="left:81px;top:45px;width:71px;height:48px;background:#8f8f8f;border:1px solid #555">
  <div class="t" style="left:12px;top:6px">ON</div><div class="t" style="left:26px;top:4px">SQ<br>OFF</div>
  <div style="left:16px;top:16px;width:11px;height:11px;border-radius:50%;background:#111"></div>
  <div style="left:44px;top:14px;width:15px;height:15px;border-radius:50%;background:#111;border:2px solid #ccc"></div>
 </div>
</div>
<div class="m" style="left:873px;top:1020px;width:175px;height:107px"></div>

<!-- stab trim -->
<div class="m" style="left:518px;top:1122px;width:177px;height:75px">
 <div class="t" style="left:28px;top:5px;font-size:7px">STAB TRIM</div><div class="t" style="left:106px;top:5px;font-size:7px">MACH TRIM</div>
 <div style="left:20px;top:24px;width:52px;height:27px;background:#111;border:1px solid #eee"><div class="tc" style="left:2px;top:10px;width:22px">CH 1</div><div class="tc" style="left:27px;top:10px;width:22px">CH 2</div></div>
 <div class="t" style="left:34px;top:57px">ENGAGE</div>
 <div style="left:98px;top:16px;width:1px;height:45px;background:#eee"></div>
 <div style="left:111px;top:24px;width:24px;height:24px;background:#f5e020;border:2px solid #222"><div class="tc" style="left:0;top:8px;width:20px;color:#222">INOP</div></div>
 <div class="tc" style="left:100px;top:52px;width:46px">ENGAGE<br>DISENGAGE</div>
</div>
<div class="m" style="left:518px;top:1199px;width:177px;height:46px">
 <div class="kn" style="left:38px;top:10px;width:30px;height:30px"></div><div class="kn" style="left:114px;top:10px;width:30px;height:30px"></div>
 <div class="t" style="left:16px;top:8px">GND<br>ALTN</div><div class="t" style="left:72px;top:8px">FLT<br>ALTN</div><div class="t" style="left:92px;top:8px">GND<br>ALTN</div><div class="t" style="left:148px;top:8px">FLT<br>ALTN</div>
</div>
<div class="m" style="left:518px;top:1247px;width:177px;height:43px">
 <div class="kn" style="left:36px;top:10px;width:18px;height:24px;border-radius:40%"></div><div class="kn" style="left:122px;top:10px;width:18px;height:24px;border-radius:40%"></div>
 <div class="t" style="left:70px;top:33px">1 —— IRS —— 2</div>
</div>

<!-- cargo firex -->
<div class="m" style="left:873px;top:1129px;width:175px;height:112px">
 <div class="tc" style="left:50px;top:3px;width:80px;font-size:6px">CARGO FIREX</div>
 <div class="t" style="left:36px;top:16px">FWD</div><div class="t" style="left:36px;top:62px">AFT</div>
 <div style="left:30px;top:24px;width:28px;height:28px;background:#555;border:1px solid #222"><div style="left:4px;top:4px;width:18px;height:18px;background:#d44;box-shadow:inset 0 0 4px #faa"></div></div>
 <div style="left:30px;top:70px;width:28px;height:28px;background:#555;border:1px solid #222"><div style="left:4px;top:4px;width:18px;height:18px;background:#d44;box-shadow:inset 0 0 4px #faa"></div></div>
 <div style="left:60px;top:40px;width:55px;border-top:1px solid #eee;transform:rotate(20deg);transform-origin:0 0"></div>
 <div style="left:60px;top:82px;width:55px;border-top:1px solid #eee;transform:rotate(-20deg);transform-origin:0 0"></div>
 <div style="left:112px;top:46px;width:30px;height:30px;background:#222;border:1px solid #000"><div style="left:3px;top:3px;width:22px;height:22px;background:#2b2;box-shadow:inset 0 0 5px #afa;font-size:3px;color:#fff;text-align:center;line-height:4px;padding-top:4px">BOTTLE<br>ARMED<br>PUSH TO<br>DISCH</div></div>
</div>
<div class="m" style="left:873px;top:1243px;width:175px;height:47px"></div>

<!-- bottom row -->
<div style="left:508px;top:1292px;width:553px;height:92px;background:#7e7e7e"></div>
<div class="m" style="left:518px;top:1296px;width:142px;height:86px">
 <div class="s" style="left:3px;top:8px;width:12px;height:12px"></div><div class="s" style="left:126px;top:8px;width:12px;height:12px"></div><div class="s" style="left:3px;top:66px;width:12px;height:12px"></div><div class="s" style="left:126px;top:66px;width:12px;height:12px"></div>
 <div style="left:4px;top:34px;width:102px;height:18px;background:#555;border-radius:9px;border:1px solid #333"></div>
 <div style="left:38px;top:26px;width:34px;height:34px;border-radius:50%;background:#444;border:1px solid #222"></div>
 <div class="t" style="left:10px;top:40px">PARKING</div><div class="t" style="left:78px;top:40px">BRAKE</div>
</div>
<div class="m" style="left:667px;top:1296px;width:108px;height:86px">
 <div style="left:19px;top:35px;width:60px;height:50px;border:1px solid #555;border-radius:4px;background:#8f8f8f"></div>
 <div style="left:4px;top:40px;width:90px;height:28px;background:#e21c1c;border-radius:3px;box-shadow:0 0 3px #a00"><div class="t" style="left:10px;top:8px;font-size:11px;line-height:12px">LG</div><div class="t" style="left:58px;top:8px;font-size:11px;line-height:12px">PULL</div></div>
 <div style="left:45px;top:40px;width:18px;height:28px;background:#c11;border-radius:6px"></div>
 <div class="t" style="left:1px;top:38px;line-height:6px">M<br>A<br>N<br>U<br>A<br>L</div>
 <div class="t" style="left:96px;top:20px;line-height:6px">L<br>A<br>N<br>D<br>I<br>N<br>G</div>
</div>
<div style="left:797px;top:1296px;width:73px;height:86px;background:#6d6d6d"></div>
<div style="left:803px;top:1302px;width:60px;height:78px;background:#888"></div>
<div style="left:805px;top:1330px;width:60px;height:48px;background:linear-gradient(#f33,#e01818);box-shadow:0 0 3px #a00"><div class="tc" style="left:0;top:12px;width:60px;font-size:11px;line-height:12px">ADG<br>⬇</div></div>
<div class="m" style="left:873px;top:1298px;width:175px;height:84px">
 <div class="sk" style="left:12px;top:18px"></div><div class="t" style="left:12px;top:32px">UNIT</div>
 <div style="left:13px;top:48px;width:9px;height:10px;background:#2a2;border:2px solid #444"></div><div class="t" style="left:12px;top:62px">TEST</div>
 <div style="left:50px;top:10px;width:24px;height:24px;border-radius:50%;background:radial-gradient(#ddd 30%,#111 38%,#333)"></div>
 <div class="tc" style="left:42px;top:38px;width:40px">PWR TXFR<br>OVERRIDE</div>
 <div class="tc" style="left:38px;top:56px;width:50px;font-size:8px;line-height:10px">ADG<br>CONTROL</div>
 <div style="left:103px;top:6px;width:1px;height:72px;background:#eee"></div>
 <div class="t" style="left:124px;top:16px">NORMAL</div>
 <div style="left:124px;top:26px;width:28px;height:30px;background:#8a8a8a;border-left:3px solid #666;border-right:3px solid #666"></div>
 <div class="sk" style="left:132px;top:34px;background:radial-gradient(#c88,#422)"></div>
 <div class="t" style="left:124px;top:58px">DEPLOY</div>
 <div class="t" style="left:112px;top:68px;font-size:8px;line-height:10px">EMER FLAP</div>
</div>

<!-- logo -->
<svg style="position:absolute;left:420px;top:1398px" width="150" height="80" viewBox="0 0 150 80">
 <path d="M80 2 L84 2 L85 30 L105 44 L105 48 L85 42 L84 60 L92 66 L92 68 L82 66 L78 66 L68 68 L68 66 L76 60 L75 42 L55 48 L55 44 L75 30 L76 2 Z" fill="#1d5a8c"/>
 <path d="M5 68 Q60 60 140 66" stroke="#4ba0c8" stroke-width="3" fill="none"/>
 <path d="M110 58 L114 58 L114 64 L124 66 L114 68 L112 72 L110 68 L100 66 L110 64 Z" fill="#9bbfd6"/>
</svg>
<div style="left:440px;top:1474px;width:100px;text-align:center;font-size:17px;color:#222;font-family:'Liberation Sans',sans-serif">CRJ-900</div>
<div style="left:430px;top:1496px;width:120px;text-align:center;font-size:12px;color:#222">Center Pedestal</div>
<div style="left:430px;top:1516px;width:120px;text-align:center;font-size:4px;line-height:5px;color:#555">This graphic is for instructional purposes only.<br>No guarantee is made for training supporting accuracy.<br>Copyright 2009-2021 JETPUBS INC<br>No portion of these images may be copied<br>without permission from JETPUBS INC<br>CRJ2209</div>
<div style="left:1040px;top:1513px;width:100px;text-align:right;font-size:12px;font-weight:bold;font-style:italic;color:#1d5a8c">JETPUBS</div>
<div style="left:1040px;top:1512px;width:40px;height:2px;background:#1d5a8c;transform:skewX(-30deg)"></div>
<div style="left:1070px;top:1526px;width:70px;text-align:right;font-size:4px;color:#4ba0c8">Educating Aviation</div>
<div style="left:1030px;top:1532px;width:110px;text-align:right;font-size:4px;line-height:5px;color:#444">900 Cross Point Drive • Suite 130 • Houston, MN 00000<br>www.jetpubs.com • 713.220.4232</div>

</div></body></html>
